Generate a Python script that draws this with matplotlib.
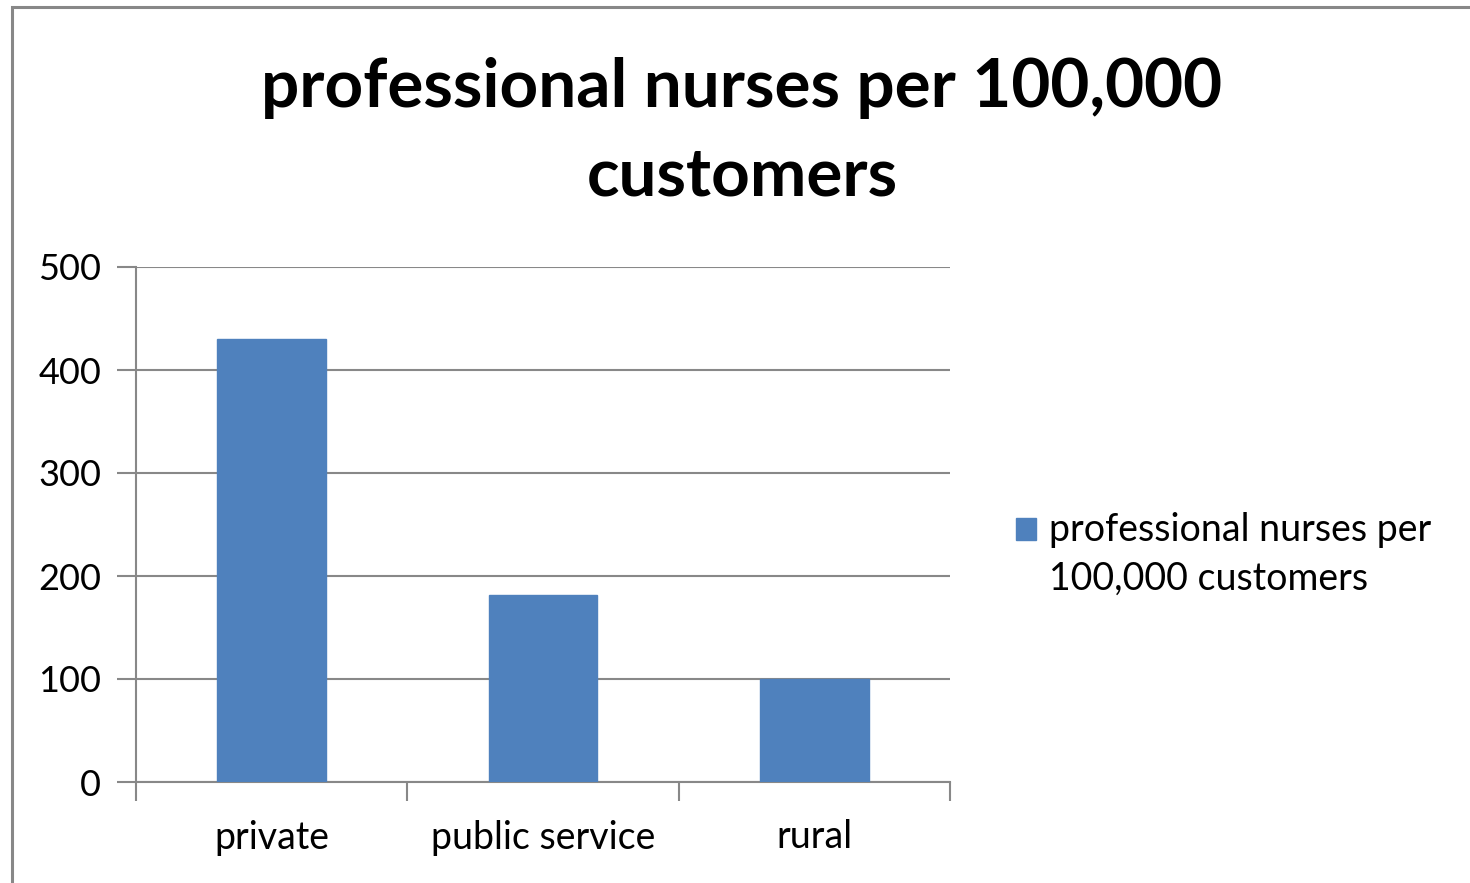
import matplotlib
matplotlib.use("Agg")
import matplotlib.pyplot as plt
from matplotlib.patches import Rectangle
from matplotlib.legend_handler import HandlerPatch, update_from_first_child

categories = ["private", "public service", "rural"]
values = [430, 182, 100]
series_name = "professional nurses per\n100,000 customers"
title = "professional nurses per 100,000\ncustomers"
yticks = [0, 100, 200, 300, 400, 500]

W, H = 1470, 883
fig = plt.figure(figsize=(W / 100, H / 100), dpi=100)
plt.rcParams["font.family"] = ["Lato", "DejaVu Sans"]

# chart-area border (left and top edges visible)
fig.patches.append(Rectangle((12 / W, -0.05), 1.2, 1 - 7 / H + 0.05,
                             transform=fig.transFigure, fill=False,
                             edgecolor="#888888", linewidth=2.2))

ax = fig.add_axes([136 / W, 1 - 782 / H, (950 - 136) / W, (782 - 267) / H])
bars = ax.bar(range(len(categories)), values, width=0.4, color="#4F81BD",
              edgecolor="#4F81BD", zorder=3, label=series_name)

ax.set_xlim(-0.5, len(categories) - 0.5)
ax.set_ylim(0, 500)
ax.set_yticks(yticks)
ax.yaxis.grid(True, color="#888888", linewidth=1.5, zorder=0)
ax.set_axisbelow(True)

for side in ("top", "right"):
    ax.spines[side].set_visible(False)
for side in ("left", "bottom"):
    ax.spines[side].set_color("#888888")
    ax.spines[side].set_linewidth(1.5)

# category boundary ticks on x axis
ax.set_xticks([i - 0.5 for i in range(len(categories) + 1)])
ax.set_xticklabels([])
ax.set_xticks(range(len(categories)), labels=categories, minor=True)
ax.tick_params(axis="x", which="major", length=14, width=1.5, color="#888888", direction="out")
ax.tick_params(axis="x", which="minor", length=0, pad=27, labelsize=27)
ax.tick_params(axis="y", length=14, width=1.5, color="#888888", direction="out", pad=11, labelsize=26)

fig.text(742 / W, 1 - 132 / H, title, ha="center", va="center",
         fontsize=48.5, fontweight="bold", linespacing=1.52)

LEG_FS = 27
LEG_LS = 1.43


def top_aligned_square(legend, orig_handle, xdescent, ydescent, width, height, fontsize):
    # key square sits beside the first line of a two-line label
    shift = 0.69 * fontsize
    return Rectangle((-xdescent, -ydescent + shift), width, height)


leg = ax.legend(loc="center left", bbox_to_anchor=(1016 / W, 1 - 554 / H),
                bbox_transform=fig.transFigure, frameon=False, fontsize=LEG_FS,
                handlelength=0.53, handleheight=0.53, handletextpad=0.35,
                borderaxespad=0, borderpad=0, labelspacing=0.2,
                handler_map={type(bars): HandlerPatch(patch_func=top_aligned_square,
                                                      update_func=update_from_first_child)})
for t in leg.get_texts():
    t.set_linespacing(LEG_LS)

fig.savefig("out.png", dpi=100)
